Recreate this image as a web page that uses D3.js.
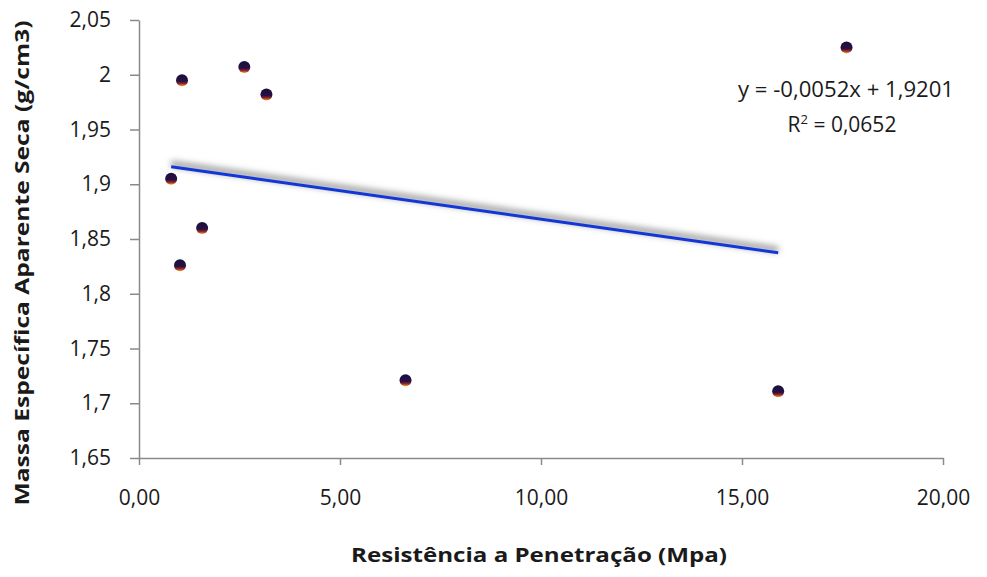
<!DOCTYPE html>
<html>
<head>
<meta charset="utf-8">
<script src="https://cdn.jsdelivr.net/npm/d3@7"></script>
<style>
  body { margin: 0; background: #fff; }
  text { font-family: "Open Sans", "Liberation Sans", sans-serif; fill: #1a1a1a; }
</style>
</head>
<body>
<div id="chart"></div>
<script>
// measured points (Resistência, Massa específica)
const xVals = [0.80, 1.02, 1.07, 1.57, 2.62, 3.17, 6.63, 15.9, 17.6];
const yVals = [1.905, 1.826, 1.995, 1.860, 2.007, 1.982, 1.721, 1.711, 2.025];
const xTicks = [0, 5, 10, 15, 20];
const yTicks = [1.65, 1.7, 1.75, 1.8, 1.85, 1.9, 1.95, 2, 2.05];
const slope = -0.0052, intercept = 1.9201;
const trendRange = [0.8, 15.9];

const width = 987, height = 577;
const margin = {top: 20, right: 44, bottom: 119, left: 139};

const svg = d3.select("#chart").append("svg")
  .attr("width", width)
  .attr("height", height);

const x = d3.scaleLinear().domain([0, 20]).range([margin.left, width - margin.right]);
const y = d3.scaleLinear().domain([1.65, 2.05]).range([height - margin.bottom, margin.top]);

const defs = svg.append("defs");
const grad = defs.append("linearGradient").attr("id", "dot").attr("x1", 0).attr("y1", 0).attr("x2", 0).attr("y2", 1);
grad.append("stop").attr("offset", "0%").attr("stop-color", "#15123a");
grad.append("stop").attr("offset", "60%").attr("stop-color", "#2a0f45");
grad.append("stop").attr("offset", "80%").attr("stop-color", "#9a2a2a");
grad.append("stop").attr("offset", "100%").attr("stop-color", "#f5a623");
defs.append("filter").attr("id", "shadow").attr("x", "-10%").attr("y", "-200%").attr("width", "120%").attr("height", "500%")
  .append("feGaussianBlur").attr("stdDeviation", 3);

const fmtX = d => d.toFixed(2).replace(".", ",");
const fmtY = d => String(+d.toFixed(2)).replace(".", ",");

// x axis
const gx = svg.append("g")
  .attr("transform", "translate(0," + y(1.65) + ")")
  .call(d3.axisBottom(x).tickValues(xTicks).tickSize(7).tickSizeOuter(0).tickFormat(fmtX));
gx.select(".domain").attr("stroke", "#8a8a8a").attr("stroke-width", 1.5);
gx.selectAll(".tick line").attr("stroke", "#8a8a8a").attr("stroke-width", 1.5);
gx.selectAll(".tick text").attr("dy", "0").attr("y", 47).style("font-size", "21px");

// y axis
const gy = svg.append("g")
  .attr("transform", "translate(" + x(0) + ",0)")
  .call(d3.axisLeft(y).tickValues(yTicks).tickSize(9).tickSizeOuter(0).tickFormat(fmtY));
gy.select(".domain").attr("stroke", "#8a8a8a").attr("stroke-width", 1.5);
gy.selectAll(".tick line").attr("stroke", "#8a8a8a").attr("stroke-width", 1.5);
gy.selectAll(".tick text").attr("x", -28).style("font-size", "21px");

// trendline with soft shadow
const tl = trendRange.map(v => [x(v), y(intercept + slope * v)]);
svg.append("line")
  .attr("x1", tl[0][0]).attr("y1", tl[0][1] - 3)
  .attr("x2", tl[1][0]).attr("y2", tl[1][1] - 3)
  .attr("stroke", "#9a9a9a").attr("stroke-width", 6)
  .attr("filter", "url(#shadow)");
svg.append("line")
  .attr("x1", tl[0][0]).attr("y1", tl[0][1])
  .attr("x2", tl[1][0]).attr("y2", tl[1][1])
  .attr("stroke", "#1236d8").attr("stroke-width", 3);

// points
svg.append("g").selectAll("circle")
  .data(d3.zip(xVals, yVals))
  .enter().append("circle")
  .attr("cx", d => x(d[0]))
  .attr("cy", d => y(d[1]))
  .attr("r", 6)
  .attr("fill", "url(#dot)");

// equation
svg.append("text")
  .attr("x", 846).attr("y", 97)
  .attr("text-anchor", "middle")
  .style("font-size", "21px")
  .attr("textLength", 216).attr("lengthAdjust", "spacingAndGlyphs")
  .text("y = -0,0052x + 1,9201");
const r2 = svg.append("text")
  .attr("x", 842).attr("y", 132)
  .attr("text-anchor", "middle")
  .style("font-size", "21px");
r2.append("tspan").text("R");
r2.append("tspan").attr("dy", -8).style("font-size", "13px").text("2");
r2.append("tspan").attr("dy", 8).text(" = 0,0652");

// axis titles
svg.append("text")
  .attr("x", 539).attr("y", 562)
  .attr("text-anchor", "middle")
  .style("font-size", "19px").style("font-weight", "bold")
  .attr("textLength", 376).attr("lengthAdjust", "spacingAndGlyphs")
  .text("Resistência a Penetração (Mpa)");

svg.append("text")
  .attr("transform", "translate(29,263) rotate(-90)")
  .attr("text-anchor", "middle")
  .style("font-size", "19px").style("font-weight", "bold")
  .attr("textLength", 485).attr("lengthAdjust", "spacingAndGlyphs")
  .text("Massa Específica  Aparente Seca  (g/cm3)");
</script>
</body>
</html>
